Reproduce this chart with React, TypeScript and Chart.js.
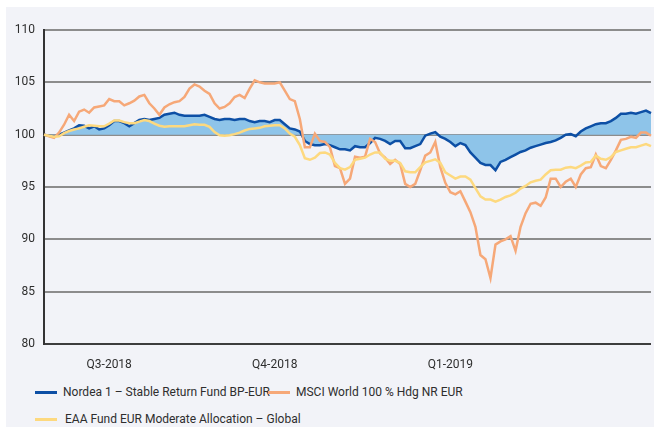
import React, { useEffect, useRef } from 'react';
import { Chart, registerables } from 'chart.js';

Chart.register(...registerables);

// Nordea 1 – Stable Return Fund BP-EUR (indexed, start = 100)
const nordea = [
  100.0, 99.9, 99.8, 100.0, 100.2, 100.4, 100.6, 100.9, 100.85, 100.6,
  100.8, 100.5, 100.6, 100.9, 101.3, 101.3, 101.1, 100.8, 101.1, 101.4,
  101.5, 101.4, 101.5, 101.6, 101.9, 102.0, 102.1, 101.9, 101.8, 101.8,
  101.8, 101.8, 101.9, 101.7, 101.5, 101.4, 101.5, 101.5, 101.4, 101.5,
  101.5, 101.3, 101.2, 101.3, 101.3, 101.2, 101.4, 101.4, 101.0, 100.6,
  100.5, 100.3, 99.4, 99.1, 99.0, 99.0, 99.1, 99.0, 98.8, 98.6,
  98.6, 98.5, 98.9, 98.8, 98.8, 99.2, 99.7, 99.6, 99.4, 99.1,
  99.4, 99.4, 98.7, 98.7, 98.9, 99.1, 99.9, 100.1, 100.25, 99.8,
  99.6, 99.3, 98.9, 99.2, 99.0, 98.3, 97.8, 97.3, 97.1, 97.1,
  96.6, 97.4, 97.6, 97.85, 98.1, 98.35, 98.5, 98.75, 98.9, 99.05,
  99.2, 99.3, 99.45, 99.7, 100.0, 100.05, 99.85, 100.3, 100.6, 100.8,
  101.0, 101.1, 101.1, 101.3, 101.6, 102.0, 102.0, 102.1, 102.0, 102.15,
  102.3, 102.05,
];

// MSCI World 100 % Hdg NR EUR
const msci = [
  100.0, 99.85, 99.7, 100.2, 100.95, 101.9, 101.3, 102.2, 102.4, 102.1,
  102.6, 102.7, 102.8, 103.4, 103.2, 103.2, 102.8, 103.0, 103.25, 103.65,
  103.8, 103.0, 102.5, 101.9, 102.6, 102.9, 103.1, 103.2, 103.6, 104.4,
  104.8, 104.6, 104.2, 103.9, 103.0, 102.5, 102.65, 103.0, 103.6, 103.8,
  103.5, 104.4, 105.2, 105.0, 104.9, 104.9, 104.9, 105.0, 104.2, 103.4,
  103.2, 101.5, 98.8, 98.8, 100.1, 99.4, 99.3, 98.8, 97.0, 96.8,
  95.3, 95.8, 97.9, 97.8, 97.9, 99.6, 99.3, 98.2, 97.8, 97.2,
  97.6, 97.2, 95.3, 95.0, 95.3, 96.6, 98.0, 98.3, 99.3, 96.9,
  95.4, 94.5, 94.3, 94.6, 93.6, 92.6, 91.2, 88.5, 88.1, 86.3,
  89.5, 89.8, 90.0, 90.3, 88.9, 91.2, 92.5, 93.4, 93.5, 93.2,
  94.0, 95.8, 95.8, 95.0, 95.5, 95.8, 95.0, 96.2, 96.8, 96.9,
  98.1, 97.0, 96.8, 97.6, 98.5, 99.5, 99.6, 99.8, 99.7, 100.2,
  100.2, 99.9,
];

// EAA Fund EUR Moderate Allocation – Global
const eaa = [
  100.0, 99.9, 99.8, 99.85, 100.15, 100.35, 100.5, 100.6, 100.75, 100.9,
  100.85, 100.8, 100.8, 101.05, 101.35, 101.35, 101.2, 101.1, 101.1, 101.25,
  101.4, 101.3, 101.05, 100.85, 100.75, 100.8, 100.8, 100.8, 100.8, 100.9,
  101.0, 100.95, 100.95, 100.75, 100.25, 99.95, 99.9, 99.95, 100.05, 100.2,
  100.4, 100.55, 100.6, 100.65, 100.8, 100.85, 100.9, 100.9, 100.6, 100.1,
  99.8, 99.0, 97.75, 97.6, 97.8, 98.25, 98.3, 98.1, 97.3, 96.8,
  96.65, 96.9, 97.6, 97.7, 97.8, 98.1, 98.3, 98.3, 97.7, 97.5,
  97.5, 97.3, 96.5, 96.4, 96.4, 96.9, 97.35, 97.5, 97.65, 97.3,
  96.4, 96.1, 95.8, 96.0, 96.0, 95.7, 94.9, 94.1, 93.8, 93.8,
  93.6, 93.8, 94.05, 94.2, 94.45, 94.85, 95.1, 95.45, 95.6, 95.7,
  96.2, 96.6, 96.65, 96.65, 96.85, 96.9, 96.8, 97.05, 97.35, 97.4,
  98.0, 97.7, 97.6, 97.85, 98.35, 98.5, 98.65, 98.8, 98.8, 98.95,
  99.1, 98.9,
];

const seriesNames = [
  'Nordea 1 – Stable Return Fund BP-EUR',
  'MSCI World 100 % Hdg NR EUR',
  'EAA Fund EUR Moderate Allocation – Global',
];
const quarterLabels = ['Q3-2018', 'Q4-2018', 'Q1-2019'];
const quarterIndex = [13, 46, 81];
const yMin = 80;
const yMax = 110;
const yStep = 5;
const baseline = 100;

const BLUE = '#0d4fa5';
const FILL = '#8ec4e9';
const ORANGE = '#f6a878';
const YELLOW = '#fdd97f';
const BG = '#f2f3f8';
const TEXT = '#2e2e2e';
const FONT = 'Roboto, "Noto Sans", sans-serif';

export default function App() {
  const ref = useRef<HTMLCanvasElement>(null);

  useEffect(() => {
    const labels = nordea.map((_, i) => String(i));
    const chart = new Chart(ref.current!, {
      type: 'line',
      data: {
        labels,
        datasets: [
          {
            label: seriesNames[0],
            data: nordea,
            borderColor: BLUE,
            backgroundColor: FILL,
            borderWidth: 2.5,
            pointRadius: 0,
            tension: 0,
            order: 2,
            fill: { target: { value: baseline }, above: FILL, below: FILL },
          },
          {
            label: seriesNames[1],
            data: msci,
            borderColor: ORANGE,
            borderWidth: 2.5,
            pointRadius: 0,
            tension: 0,
            order: 1,
            fill: false,
          },
          {
            label: seriesNames[2],
            data: eaa,
            borderColor: YELLOW,
            borderWidth: 2.5,
            pointRadius: 0,
            tension: 0,
            order: 0,
            fill: false,
          },
        ],
      },
      options: {
        animation: false,
        responsive: false,
        layout: { padding: { left: 0, top: 23, right: 3, bottom: 0 } },
        plugins: { legend: { display: false }, tooltip: { enabled: false } },
        scales: {
          x: {
            grid: { display: false, drawTicks: false },
            border: { display: false },
            ticks: {
              autoSkip: false,
              maxRotation: 0,
              minRotation: 0,
              padding: 14,
              color: TEXT,
              font: { family: FONT, size: 12 },
              callback: (_v: any, i: number) => {
                const k = quarterIndex.indexOf(i);
                return k >= 0 ? quarterLabels[k] : '';
              },
            },
            afterFit: (s: any) => {
              s.height = 33;
              s.paddingLeft = 0;
              s.paddingRight = 0;
            },
          },
          y: {
            min: yMin,
            max: yMax,
            ticks: {
              stepSize: yStep,
              padding: 9,
              color: TEXT,
              font: { family: FONT, size: 12 },
            },
            grid: {
              color: (ctx: any) => (ctx.tick && ctx.tick.value === yMin ? '#3d3d3d' : '#8c8c8c'),
              lineWidth: 2,
              drawTicks: false,
            },
            border: { display: true, color: '#333333', width: 2 },
            afterFit: (s: any) => {
              s.width = 38;
            },
          },
        },
      },
    } as any);
    return () => chart.destroy();
  }, []);

  const swatch = (color: string) => (
    <span style={{ display: 'inline-block', width: 22, height: 3, background: color, marginRight: 6 }} />
  );
  const itemStyle = (left: number, top: number): React.CSSProperties => ({
    position: 'absolute',
    left,
    top,
    height: 16,
    display: 'flex',
    alignItems: 'center',
    whiteSpace: 'nowrap',
    fontFamily: FONT,
    fontSize: 12,
    color: TEXT,
  });

  return (
    <div
      style={{
        position: 'absolute',
        left: 6,
        top: 7,
        width: 648,
        height: 420,
        background: BG,
      }}
    >
      <canvas ref={ref} width={648} height={370} style={{ position: 'absolute', left: 0, top: 0 }} />
      <div style={itemStyle(29, 377)}>
        {swatch(BLUE)}
        <span>{seriesNames[0]}</span>
      </div>
      <div style={itemStyle(262, 377)}>
        {swatch(ORANGE)}
        <span>{seriesNames[1]}</span>
      </div>
      <div style={itemStyle(29, 404)}>
        {swatch(YELLOW)}
        <span style={{ marginLeft: 2 }}>{seriesNames[2]}</span>
      </div>
    </div>
  );
}
